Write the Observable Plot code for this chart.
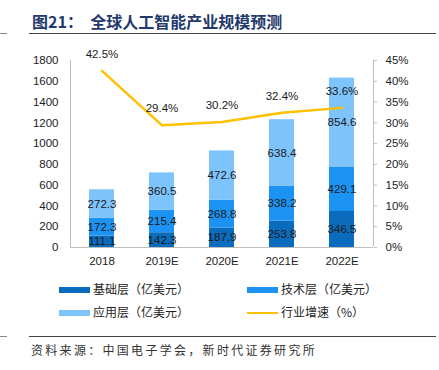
<!DOCTYPE html>
<html><head><meta charset="utf-8">
<script src="https://cdn.jsdelivr.net/npm/d3@7"></script>
<script src="https://cdn.jsdelivr.net/npm/@observablehq/plot@0.6"></script>
<style>
body{margin:0;background:#fff;}
#wrap{position:relative;width:439px;height:370px;overflow:hidden;background:#fff;font-family:"Noto Sans CJK SC","Noto Sans",sans-serif;}
#title{position:absolute;left:32px;top:10px;font-size:16px;font-weight:bold;color:#1F3A6B;white-space:nowrap;line-height:22px;}
.rule{position:absolute;height:0;border-top:1px solid #444;}
#chart{position:absolute;left:0;top:40px;}
.leg{position:absolute;font-size:12px;color:#222;white-space:nowrap;line-height:16px;}
.sw{position:absolute;}
#cap{position:absolute;left:31px;top:341px;font-size:12px;color:#333;letter-spacing:2.3px;white-space:nowrap;font-family:"Noto Sans CJK SC",serif;}
</style></head><body>
<div id="wrap">
  <div id="title">图21：&nbsp;&nbsp;全球人工智能产业规模预测</div>
  <div class="rule" style="left:29px;width:407px;top:33px;"></div>
  <div class="rule" style="left:0;width:7px;top:33px;border-color:#888;"></div>
  <div id="chart"></div>
  <div id="legend"></div>
  <div class="rule" style="left:29px;width:407px;top:336px;"></div>
  <div class="rule" style="left:0;width:7px;top:336px;border-color:#888;"></div>
  <div id="cap">资料来源：中国电子学会，新时代证券研究所</div>
</div>
<script>
const years = ["2018","2019E","2020E","2021E","2022E"];
const baseLayer = [111.1,142.3,187.9,253.8,346.5];
const techLayer = [172.3,215.4,268.8,338.2,429.1];
const appLayer = [272.3,360.5,472.6,638.4,854.6];
const growth = [42.5,29.4,30.2,32.4,33.6];
const layerNames = ["基础层（亿美元）","技术层（亿美元）","应用层（亿美元）"];
const lineName = "行业增速（%）";
const colors = ["#0B6CBD","#1C93F2","#7DC3FC"];
const lineColor = "#FFC000";
const leftTicks = [0,200,400,600,800,1000,1200,1400,1600,1800];
const rightTicks = [0,5,10,15,20,25,30,35,40,45];
const ratio = 1800/45;

const series = [baseLayer, techLayer, appLayer];
const rows = [];
years.forEach((y,i)=>series.forEach((s,k)=>rows.push({year:y, layer:layerNames[k], value:s[i]})));
const growthRows = years.map((y,i)=>({year:y, pct:growth[i]}));

const font = "'Liberation Sans', Arial, sans-serif";

const axisLines = (index, scales, values, dim) => {
  const g = d3.create("svg:g").attr("stroke","#BFBFBF").attr("stroke-width",1);
  const l = dim.marginLeft, r = dim.width - dim.marginRight, t = dim.marginTop, b = dim.height - dim.marginBottom;
  g.append("line").attr("x1",l+0.5).attr("x2",l+0.5).attr("y1",t).attr("y2",b);
  g.append("line").attr("x1",r+0.5).attr("x2",r+0.5).attr("y1",t).attr("y2",b);
  return g.node();
};

const chart = Plot.plot({
  width: 439, height: 240,
  marginTop: 20, marginBottom: 33, marginLeft: 70, marginRight: 66,
  style: {fontFamily: font, fontSize: "11.5px", color: "#222", background: "transparent"},
  x: {domain: years, paddingInner: 0.58, paddingOuter: 0.29, label: null},
  y: {domain: [0,1800], label: null},
  color: {domain: layerNames, range: colors},
  marks: [
    Plot.barY(rows, {x:"year", y:"value", fill:"layer"}),
    Plot.text(rows, Plot.stackY({x:"year", y:"value", z:"layer", text: d=>d.value.toFixed(1), fill:"#1a1a1a", fontSize: 11.5})),
    Plot.ruleY([0], {stroke:"#BFBFBF"}),
    axisLines,
    Plot.axisX({tickSize:0, tickPadding:9, fontSize: 11.5, fill:"#222"}),
    Plot.axisY(leftTicks, {anchor:"left", tickSize:0, tickPadding:12, fill:"#222", tickFormat: d=>String(d)}),
    Plot.axisY(rightTicks.map(p=>p*ratio), {anchor:"right", tickSize:3, tickPadding:9, stroke:"#BFBFBF", fill:"#222", tickFormat: d=> (d/ratio)+"%"}),
    Plot.line(growthRows, {x:"year", y: d=>d.pct*ratio, stroke: lineColor, strokeWidth: 2.5}),
    Plot.text(growthRows, {x:"year", y: d=>d.pct*ratio, text: d=>d.pct.toFixed(1)+"%", dy:-17, fill:"#1a1a1a", fontSize: 11.5})
  ]
});
document.getElementById("chart").appendChild(chart);

// legend
const legend = document.getElementById("legend");
const items = [
  {name: layerNames[0], color: colors[0], type:"bar", x:59, y:290},
  {name: layerNames[1], color: colors[1], type:"bar", x:247, y:290},
  {name: layerNames[2], color: colors[2], type:"bar", x:59, y:313},
  {name: lineName, color: lineColor, type:"line", x:247, y:313}
];
items.forEach(it=>{
  const sw = document.createElement("div");
  sw.className = "sw";
  const h = it.type==="bar" ? 6 : 2;
  sw.style.cssText = `left:${it.x}px;top:${it.y - h/2}px;width:31px;height:${h}px;background:${it.color};`;
  legend.appendChild(sw);
  const t = document.createElement("div");
  t.className = "leg";
  t.style.left = (it.x + 34) + "px";
  t.style.top = (it.y - 9) + "px";
  t.textContent = it.name;
  legend.appendChild(t);
});
</script>
</body></html>
